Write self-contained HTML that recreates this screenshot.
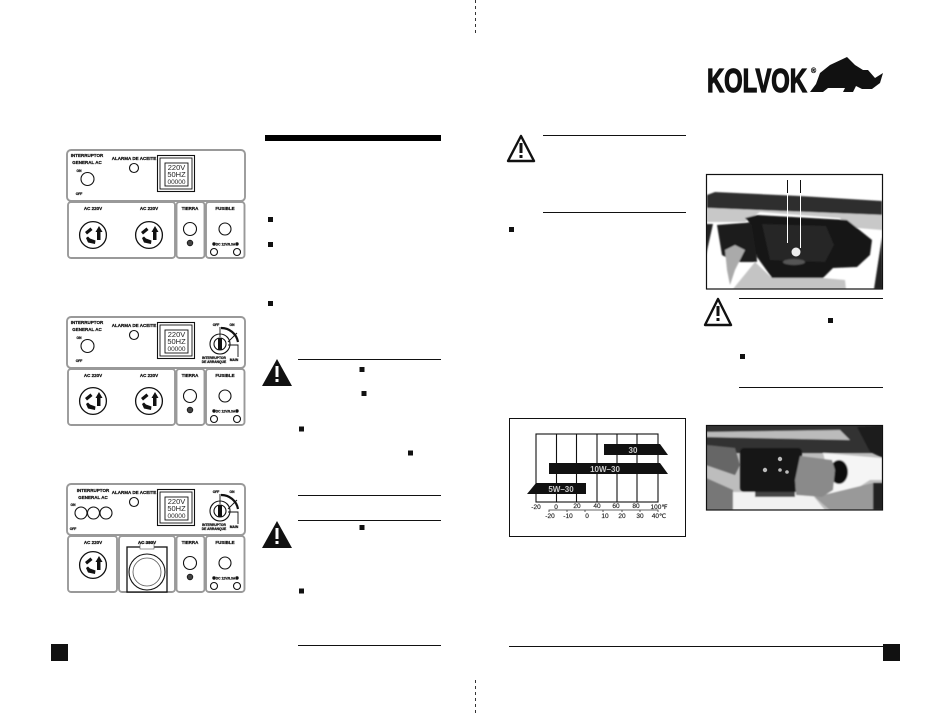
<!DOCTYPE html>
<html><head><meta charset="utf-8"><style>
html,body{margin:0;padding:0;background:#fff}
svg{display:block}
.l{font-family:"Liberation Sans",sans-serif;font-weight:bold;font-size:4.5px;fill:#111;stroke:#111;stroke-width:.25;text-anchor:middle}
.s{font-size:3.3px}
.d{font-family:"Liberation Sans",sans-serif;font-size:7.5px;fill:#222;text-anchor:middle}
.c{font-family:"Liberation Sans",sans-serif;font-size:6.5px;fill:#222;stroke:#222;stroke-width:.15;text-anchor:middle}
.w{font-family:"Liberation Sans",sans-serif;font-weight:bold;font-size:8px;fill:#ccc;text-anchor:middle}
.p{fill:none;stroke:#999;stroke-width:1.9}
.k{fill:#fff;stroke:#111;stroke-width:1.1}
</style></head><body>
<svg width="950" height="713" viewBox="0 0 950 713" xmlns="http://www.w3.org/2000/svg">
<defs>
<g id="o">
<circle r="13.4" fill="#fff" stroke="#111" stroke-width="1.3"/>
<path d="M6,-9 L9.500,-3 L7.500,-3 L7.500,5 L4,5 L4,-3 L2.500,-3 Z" fill="#111"/>
<path d="M-2.500,-7.500 L-8,-3 L-6,-.5 L-.5,-5 Z" fill="#111"/>
<path d="M-7,3 L-5,7.500 L2,9 L2.500,5.500 L-3,3.500 L-5,1.500 Z" fill="#111"/>
</g>
<g id="b">
<rect x="67" y="150" width="178" height="51" rx="4" class="p"/>
<rect x="176.500" y="202" width="28" height="56" rx="3" class="p"/>
<rect x="206" y="202" width="38.500" height="56" rx="3" class="p"/>
<circle cx="134" cy="168" r="4.500" class="k"/>
<rect x="157.500" y="155.500" width="37" height="36" fill="none" stroke="#111" stroke-width="1.1"/>
<rect x="160" y="158" width="32" height="31" fill="none" stroke="#111" stroke-width="0.9"/>
<rect x="165" y="163" width="23" height="23" fill="none" stroke="#111" stroke-width="0.9"/>
<text x="176.500" y="170" class="d">220V</text>
<text x="176.500" y="177" class="d">50HZ</text>
<text x="176.500" y="184" class="d" style="font-size:6.500px">00000</text>
<text x="134" y="160" class="l">ALARMA DE ACEITE</text>
<text x="190" y="210" class="l">TIERRA</text>
<text x="225" y="210" class="l">FUSIBLE</text>
<circle cx="190" cy="229" r="6.500" class="k"/>
<circle cx="190" cy="243" r="2.800" fill="#444" stroke="#111" stroke-width="0.8"/>
<circle cx="225" cy="229" r="6" class="k"/>
<circle cx="214" cy="244" r="1.700" fill="#111"/>
<circle cx="237" cy="244" r="1.700" fill="#111"/>
<text x="225.500" y="245.500" class="l s">DC 12V/8.3A</text>
<circle cx="214" cy="252" r="3.500" class="k"/>
<circle cx="237" cy="252" r="3.500" class="k"/>
</g>
<g id="key">
<circle cx="220" cy="177" r="10" class="k"/>
<circle cx="220" cy="177" r="6" class="k"/>
<rect x="218" y="171" width="4" height="12" fill="#111"/>
<path d="M221,161 A17,17 0 0 1 238,175" fill="none" stroke="#111" stroke-width="2.200"/>
<path d="M220,160 V170 M237,166 L228,175 M228,178 H238 V190" fill="none" stroke="#111" stroke-width="0.9"/>
<text x="216" y="159" class="l s">OFF</text>
<text x="232" y="159" class="l s">ON</text>
<text x="234" y="194" class="l s">MAIN</text>
<text x="214" y="192" class="l s">INTERRUPTOR</text>
<text x="214" y="196" class="l s">DE ARRANQUE</text>
</g>
<filter id="bl" x="-5%" y="-5%" width="110%" height="110%"><feGaussianBlur stdDeviation="0.9"/></filter>
<clipPath id="c1"><rect x="706" y="174" width="177" height="115"/></clipPath>
<clipPath id="c2"><rect x="706" y="425" width="177" height="85"/></clipPath>
</defs>

<!-- fold marks -->
<line x1="475.500" y1="0" x2="475.500" y2="35" stroke="#333" stroke-dasharray="3 3"/>
<line x1="475.500" y1="680" x2="475.500" y2="713" stroke="#333" stroke-dasharray="3 3"/>

<!-- Panel 1 -->
<g>
<use href="#b"/>
<rect x="68" y="202" width="107" height="56" rx="3" class="p"/>
<text x="87" y="157" class="l">INTERRUPTOR</text><text x="87" y="164" class="l">GENERAL AC</text>
<text x="79" y="172" class="l s">ON</text><text x="79" y="195" class="l s">OFF</text>
<circle cx="87.500" cy="179" r="6.500" class="k"/>
<text x="93" y="210" class="l">AC 220V</text><text x="149" y="210" class="l">AC 220V</text>
<use href="#o" x="93" y="235"/><use href="#o" x="149" y="235"/>
</g>
<!-- Panel 2 -->
<g transform="translate(0,167)">
<use href="#b"/><use href="#key"/>
<rect x="68" y="202" width="107" height="56" rx="3" class="p"/>
<text x="87" y="157" class="l">INTERRUPTOR</text><text x="87" y="164" class="l">GENERAL AC</text>
<text x="79" y="172" class="l s">ON</text><text x="79" y="195" class="l s">OFF</text>
<circle cx="87.500" cy="179" r="6.500" class="k"/>
<text x="93" y="210" class="l">AC 220V</text><text x="149" y="210" class="l">AC 220V</text>
<use href="#o" x="93" y="234"/><use href="#o" x="149" y="234"/>
</g>
<!-- Panel 3 -->
<g transform="translate(0,334)">
<use href="#b"/><use href="#key"/>
<rect x="68" y="202" width="49" height="56" rx="3" class="p"/>
<rect x="119" y="202" width="56" height="56" rx="3" class="p"/>
<text x="93" y="158" class="l">INTERRUPTOR</text><text x="93" y="165" class="l">GENERAL AC</text>
<text x="73" y="172" class="l s">ON</text><text x="73" y="196" class="l s">OFF</text>
<circle cx="81" cy="179" r="6" class="k"/><circle cx="93.500" cy="179" r="6" class="k"/><circle cx="106" cy="179" r="6" class="k"/>
<text x="93" y="210" class="l">AC 220V</text>
<use href="#o" x="93" y="231"/>
<rect x="127" y="213" width="40" height="45" fill="#fff" stroke="#111" stroke-width="1.300"/>
<rect x="140" y="209" width="14" height="6" fill="#fff" stroke="#555" stroke-width=".6"/>
<circle cx="147" cy="238" r="18" class="k"/><circle cx="147" cy="238" r="14" fill="#fff" stroke="#555" stroke-width="0.800"/>
<text x="147" y="210" class="l">AC 380V</text>
</g>

<!-- Left column text page -->
<rect x="265" y="135" width="176" height="6" fill="#000"/>
<rect x="268" y="217" width="5" height="5" fill="#111"/>
<rect x="268" y="242" width="5" height="5" fill="#111"/>
<rect x="268" y="301" width="5" height="5" fill="#111"/>
<line x1="298" y1="359.500" x2="441" y2="359.500" stroke="#111"/>
<polygon points="277,359 292,386 262,386" fill="#111"/>
<rect x="275.500" y="366" width="3" height="11" fill="#fff"/><rect x="275.500" y="379" width="3" height="3" fill="#fff"/>
<rect x="359.500" y="367" width="5" height="5" fill="#111"/>
<rect x="361.500" y="391" width="5" height="5" fill="#111"/>
<rect x="299" y="426.500" width="5" height="5" fill="#111"/>
<rect x="408" y="450.500" width="5" height="5" fill="#111"/>
<line x1="298" y1="495.500" x2="441" y2="495.500" stroke="#111"/>
<line x1="298" y1="520.500" x2="441" y2="520.500" stroke="#111"/>
<polygon points="277,521 292,548 262,548" fill="#111"/>
<rect x="275.500" y="528" width="3" height="11" fill="#fff"/><rect x="275.500" y="541" width="3" height="3" fill="#fff"/>
<rect x="359.500" y="525" width="5" height="5" fill="#111"/>
<rect x="299" y="588.500" width="5" height="5" fill="#111"/>
<line x1="298" y1="645.500" x2="441" y2="645.500" stroke="#111"/>
<rect x="51" y="644" width="17" height="17" fill="#111"/>

<!-- Right page -->
<line x1="543" y1="135.500" x2="686" y2="135.500" stroke="#111"/>
<line x1="543" y1="212.500" x2="686" y2="212.500" stroke="#111"/>
<polygon points="521,136 534,161 508,161" fill="#fff" stroke="#111" stroke-width="2.400" stroke-linejoin="round"/>
<rect x="519.500" y="143" width="3" height="10" fill="#111"/><rect x="519.500" y="155" width="3" height="3" fill="#111"/>
<rect x="509" y="227" width="5" height="5" fill="#111"/>

<!-- Oil chart -->
<rect x="509.500" y="418.500" width="176" height="118" fill="#fff" stroke="#111" stroke-width="1"/>
<rect x="536" y="434" width="122" height="68" fill="none" stroke="#111" stroke-width="1.100"/>
<path d="M556.500,434V502M576.500,434V502M597,434V502M617,434V502M637,434V502" stroke="#111" stroke-width="1.100"/>
<polygon points="604,444 660,444 668,455 604,455" fill="#111"/>
<polygon points="549,463 660,463 668,474 549,474" fill="#111"/>
<polygon points="536,483 586,483 586,494 527,494" fill="#111"/>
<text x="633" y="453" class="w">30</text>
<text x="605" y="472" class="w">10W–30</text>
<text x="561" y="492" class="w">5W–30</text>
<text x="536" y="509" class="c">-20</text><text x="556" y="509" class="c">0</text><text x="577" y="508" class="c">20</text>
<text x="597" y="508" class="c">40</text><text x="616" y="508" class="c">60</text><text x="636" y="508" class="c">80</text>
<text x="659" y="509" class="c">100℉</text>
<path d="M549,512 V510 H658 V512 M567,510v2M585,510v2M603,510v2M622,510v2M640,510v2" fill="none" stroke="#333" stroke-width="0.800"/>
<text x="550" y="518" class="c">-20</text><text x="568" y="518" class="c">-10</text><text x="587" y="518" class="c">0</text>
<text x="605" y="518" class="c">10</text><text x="622" y="518" class="c">20</text><text x="640" y="518" class="c">30</text>
<text x="659" y="518" class="c">40℃</text>

<!-- Logo -->
<text x="707" y="92" font-family="'Liberation Sans',sans-serif" font-weight="bold" font-size="33" textLength="100" lengthAdjust="spacingAndGlyphs" fill="#111" stroke="#111" stroke-width="1.300">KOLVOK</text>
<text x="811" y="73" font-family="'Liberation Sans',sans-serif" font-weight="bold" font-size="7" fill="#111" stroke="#111" stroke-width=".3">®</text>
<polygon points="810,92 816,84 820,73 830,65 847,57 855,65 863,70 868,70 875,78 883,73 880,83 872,89 862,89 856,86 853,92 843,92 845,88 828,88 823,92" fill="#111"/>

<!-- Photo 1 -->
<g clip-path="url(#c1)">
<rect x="706" y="174" width="177" height="115" fill="#fff"/>
<g filter="url(#bl)">
<polygon points="707,195 715,192 800,196 882,201 882,215 707,208" fill="#2f2f2f"/>
<polygon points="707,208 882,215 882,230 845,227 840,218 760,212 745,222 707,222" fill="#c8c8c8"/>
<polygon points="717,225 755,222 757,262 735,262 722,255" fill="#1a1a1a"/>
<polygon points="733,289 755,262 772,278 823,278 845,280 846,289" fill="#c4c4c4"/>
<polygon points="725,250 735,245 745,250 735,270 730,285 727,270" fill="#aaa"/>
<polygon points="706,224 713,224 706,255" fill="#222"/>
<polygon points="882,237 874,289 883,289" fill="#222"/>
<polygon points="745,218 757,215 847,220 872,240 870,255 857,267 833,268 823,278 772,278 757,257 752,225" fill="#161616"/>
<polygon points="762,224 826,226 834,245 825,262 770,260" fill="#252525"/>
<ellipse cx="794" cy="262" rx="11" ry="3" fill="#555"/>
</g>
<circle cx="796" cy="252" r="4.500" fill="#eee"/>
<rect x="787" y="180" width="1" height="13" fill="#111"/><rect x="800" y="180" width="1" height="13" fill="#111"/>
<rect x="787" y="193" width="1" height="50" fill="#fff"/><rect x="800" y="193" width="1" height="55" fill="#fff"/>
</g>
<rect x="706.500" y="174.500" width="176" height="114.500" fill="none" stroke="#111" stroke-width="1.200"/>

<!-- Caution 2 -->
<polygon points="718,299 731,325 705,325" fill="#fff" stroke="#111" stroke-width="2.400" stroke-linejoin="round"/>
<rect x="716.500" y="306" width="3" height="10" fill="#111"/><rect x="716.500" y="318" width="3" height="3" fill="#111"/>
<line x1="739" y1="298.500" x2="883" y2="298.500" stroke="#111"/>
<line x1="739" y1="387.500" x2="883" y2="387.500" stroke="#111"/>
<rect x="828" y="318" width="5" height="5" fill="#111"/>
<rect x="740" y="354" width="5" height="5" fill="#111"/>

<!-- Photo 2 -->
<g clip-path="url(#c2)">
<rect x="706" y="425" width="177" height="85" fill="#bdbdbd"/>
<g filter="url(#bl)">
<rect x="706" y="425" width="177" height="28" fill="#333"/>
<polygon points="706,432 840,430 850,440 706,437" fill="#bbb"/>
<polygon points="706,445 735,448 740,465 735,475 706,465" fill="#666"/>
<polygon points="857,427 883,425 883,458 870,452" fill="#1c1c1c"/>
<polygon points="823,453 882,458 882,480 870,480 843,497 822,497 830,480" fill="#f5f5f5"/>
<polygon points="706,478 733,490 733,510 706,510" fill="#777"/>
<polygon points="733,492 810,492 825,510 733,510" fill="#f2f2f2"/>
<polygon points="815,497 873,483 883,485 883,510 830,510" fill="#999"/>
<rect x="873" y="483" width="10" height="27" fill="#222"/>
<rect x="740" y="448" width="62" height="44" rx="4" fill="#171717"/>
<rect x="755" y="492" width="40" height="5" fill="#444"/>
<ellipse cx="839" cy="472" rx="9" ry="12" fill="#111"/>
<polygon points="800,456 832,460 835,470 833,490 822,497 796,495 795,480" fill="#8a8a8a"/>
</g>
<circle cx="780" cy="459" r="2.200" fill="#bbb"/><circle cx="765" cy="470" r="2.200" fill="#bbb"/><circle cx="780" cy="470" r="1.800" fill="#bbb"/><circle cx="787" cy="472" r="1.800" fill="#bbb"/>
</g>
<rect x="706.500" y="425.500" width="176" height="84.500" fill="none" stroke="#111" stroke-width="1.200"/>

<!-- Footer -->
<line x1="509" y1="646.500" x2="883" y2="646.500" stroke="#111"/>
<rect x="883" y="644" width="17" height="17" fill="#111"/>
</svg>
</body></html>
